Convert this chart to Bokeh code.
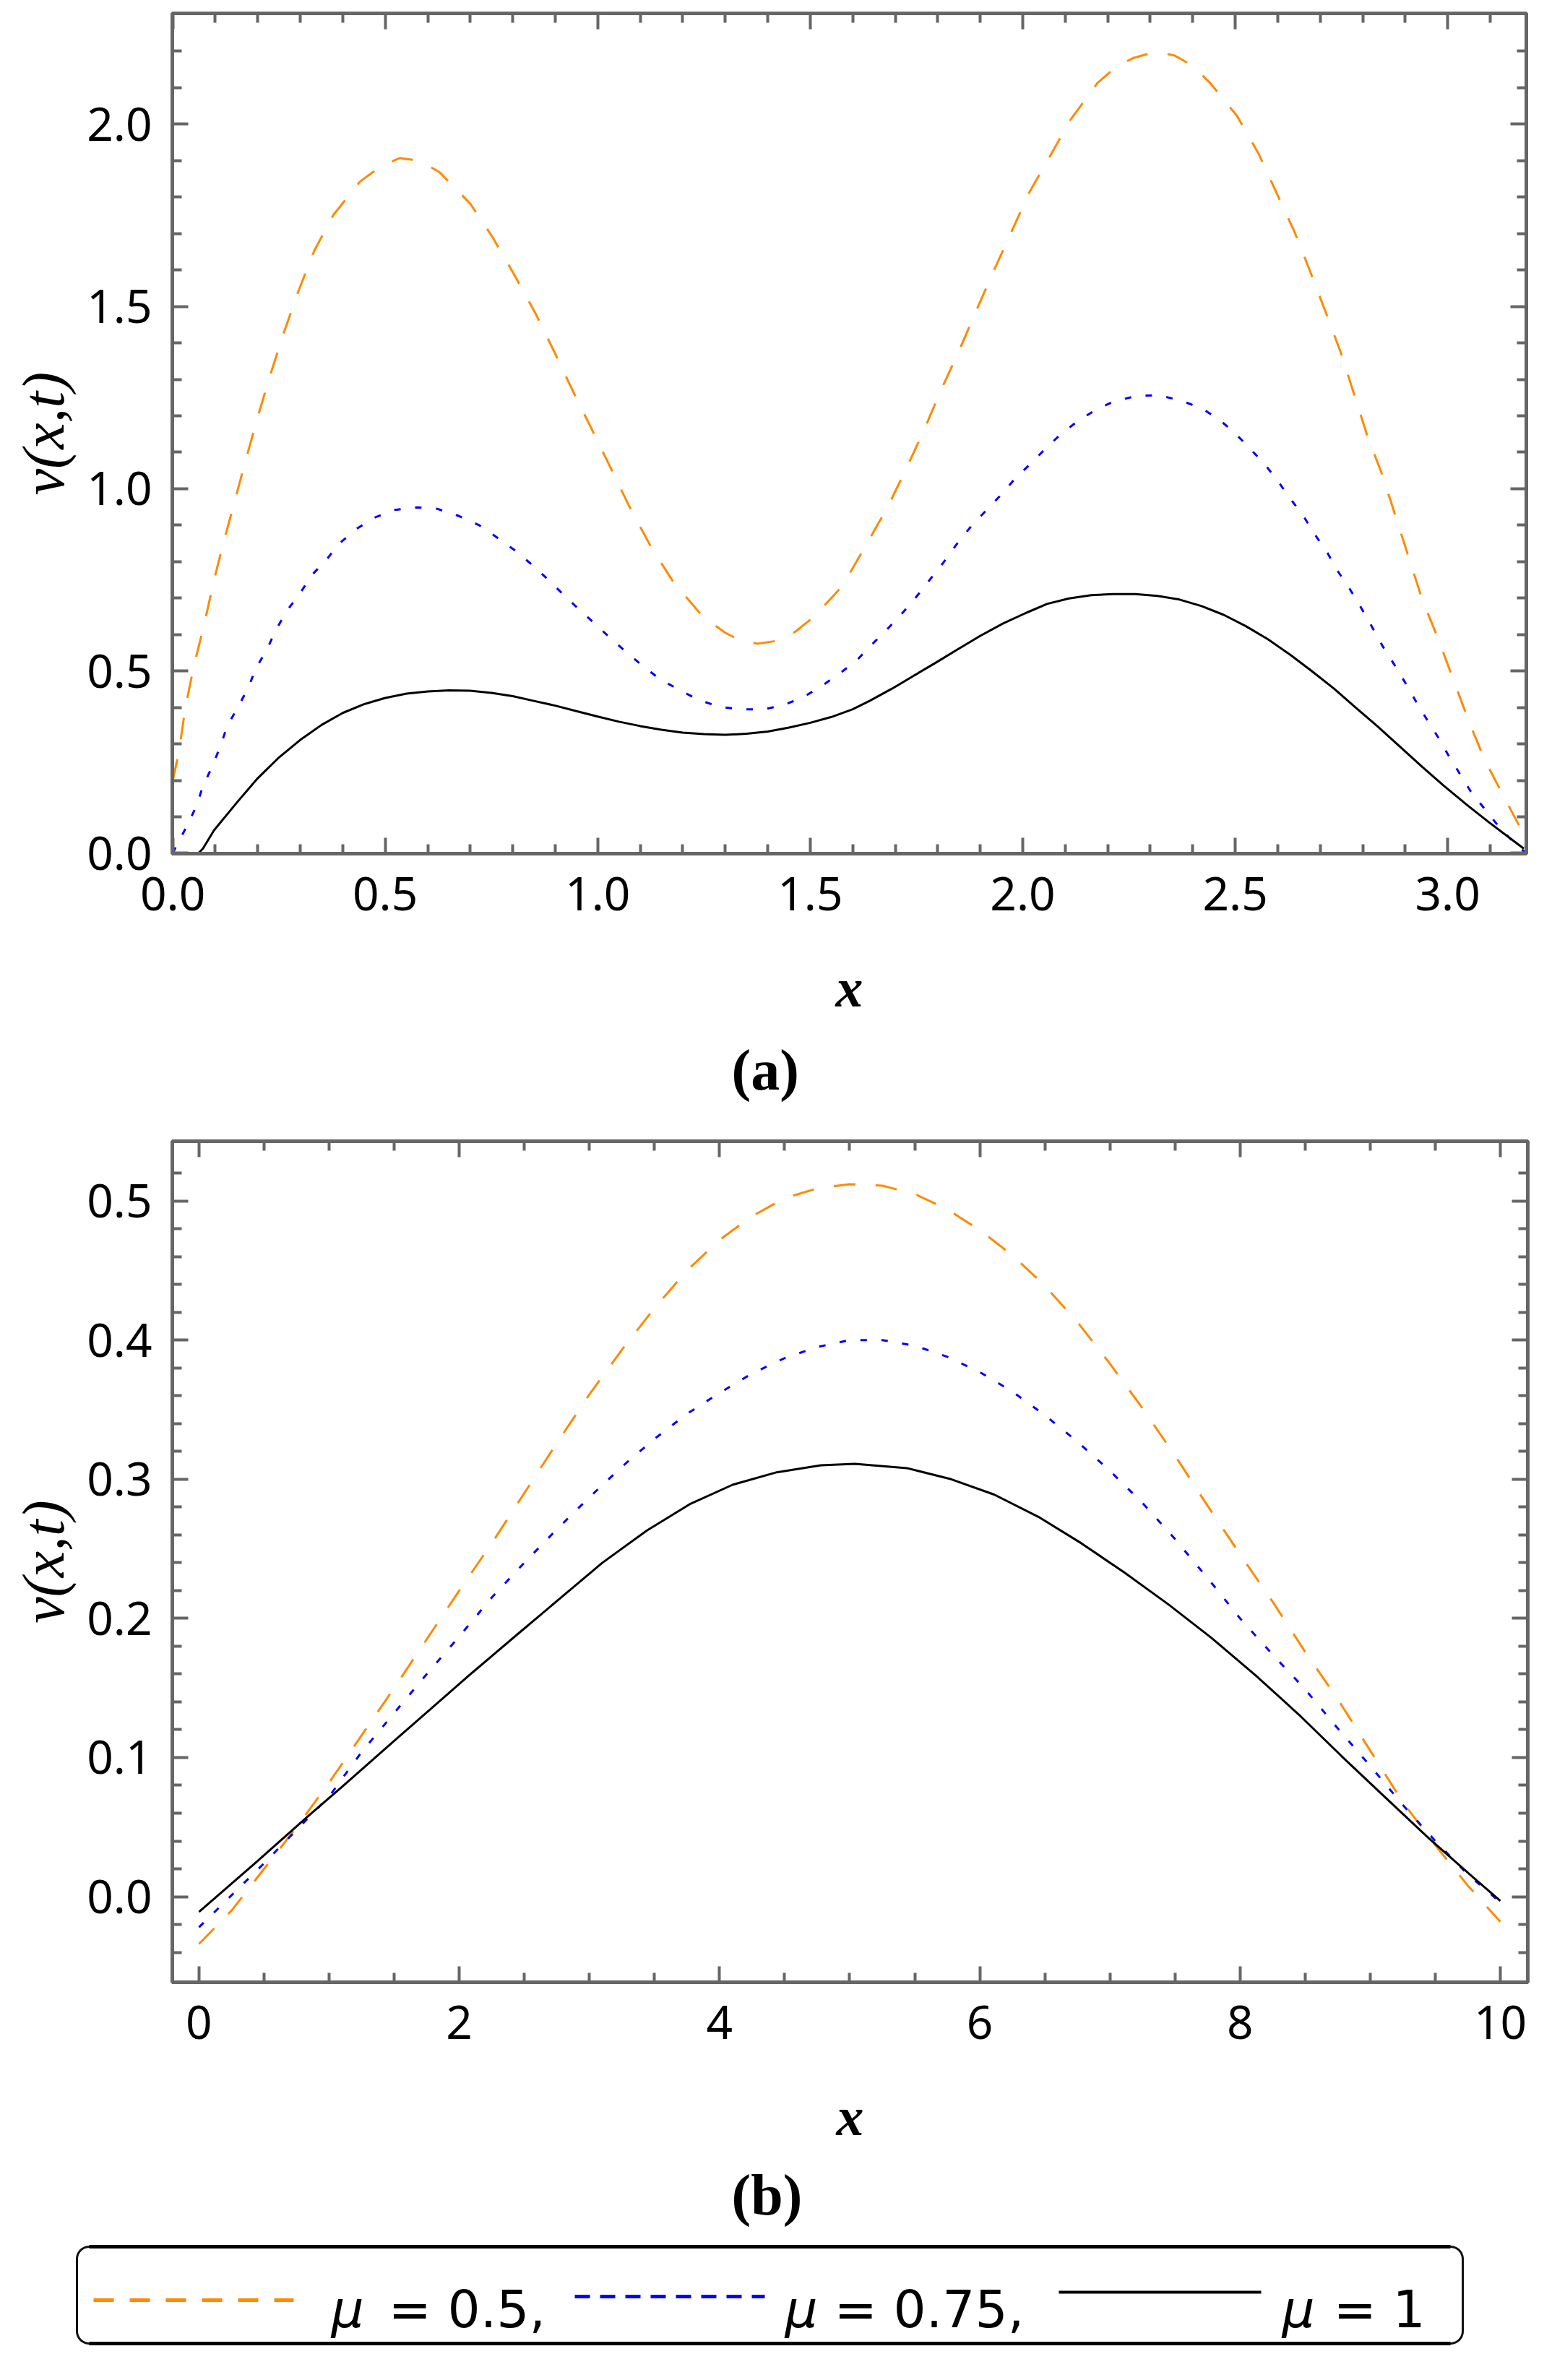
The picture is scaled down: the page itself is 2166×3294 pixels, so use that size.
import numpy as np
from bokeh.plotting import figure
from bokeh.models import Range1d, LinearAxis, FixedTicker, PrintfTickFormatter, Title
from bokeh.layouts import column
from bokeh.embed import file_html
from bokeh.resources import INLINE
from bokeh.core.properties import value

# ------------------------------------------------------------------ data
# panel (a)
a_orange_x = [0.0, 0.014, 0.030, 0.050, 0.074, 0.097, 0.120, 0.146, 0.172, 0.201, 0.230, 0.261,
              0.295, 0.333, 0.378, 0.440, 0.490, 0.534, 0.580, 0.627, 0.700, 0.752, 0.804,
              0.854, 0.898, 0.941, 0.986, 1.030, 1.074, 1.126, 1.178, 1.246, 1.300, 1.334,
              1.376, 1.423, 1.465, 1.511, 1.573, 1.594, 1.636, 1.683, 1.724, 1.766, 1.807,
              1.849, 1.890, 1.930, 1.974, 2.015, 2.065, 2.114, 2.176, 2.220, 2.259, 2.295,
              2.327, 2.358, 2.400, 2.441, 2.504, 2.556, 2.597, 2.639, 2.675, 2.712, 2.748,
              2.779, 2.810, 2.847, 2.878, 2.909, 2.940, 2.977, 3.013, 3.049, 3.086, 3.133,
              3.174, 3.19]
a_orange_y = [0.20, 0.274, 0.402, 0.515, 0.628, 0.749, 0.855, 0.967, 1.080, 1.201, 1.314, 1.427,
              1.540, 1.653, 1.751, 1.842, 1.885, 1.907, 1.900, 1.869, 1.782, 1.691, 1.586,
              1.480, 1.375, 1.269, 1.163, 1.058, 0.952, 0.839, 0.744, 0.651, 0.605, 0.585,
              0.575, 0.583, 0.608, 0.651, 0.730, 0.770, 0.855, 0.952, 1.050, 1.156, 1.269,
              1.375, 1.487, 1.593, 1.706, 1.812, 1.914, 2.015, 2.113, 2.158, 2.181, 2.193,
              2.196, 2.188, 2.160, 2.113, 2.023, 1.917, 1.812, 1.706, 1.600, 1.487, 1.375,
              1.262, 1.148, 1.035, 0.922, 0.809, 0.696, 0.590, 0.477, 0.364, 0.259, 0.153,
              0.063, 0.03]

a_blue_x = [0.0, 0.014, 0.035, 0.056, 0.071, 0.092, 0.113, 0.128, 0.154, 0.178, 0.196, 0.222,
            0.243, 0.269, 0.300, 0.328, 0.362, 0.393, 0.435, 0.477, 0.523, 0.575, 0.622,
            0.674, 0.721, 0.762, 0.804, 0.846, 0.882, 0.918, 0.955, 0.991, 1.030, 1.069,
            1.108, 1.147, 1.194, 1.235, 1.285, 1.339, 1.391, 1.438, 1.485, 1.527, 1.568,
            1.610, 1.641, 1.683, 1.719, 1.750, 1.781, 1.813, 1.844, 1.875, 1.911, 1.948,
            1.979, 2.015, 2.052, 2.088, 2.130, 2.171, 2.213, 2.265, 2.317, 2.369, 2.421,
            2.462, 2.499, 2.535, 2.571, 2.603, 2.628, 2.660, 2.686, 2.717, 2.743, 2.769,
            2.795, 2.821, 2.847, 2.873, 2.899, 2.925, 2.951, 2.977, 3.003, 3.029, 3.055,
            3.086, 3.117, 3.159, 3.185]
a_blue_y = [0.0, 0.033, 0.078, 0.131, 0.184, 0.236, 0.296, 0.349, 0.402, 0.455, 0.508, 0.560,
            0.613, 0.666, 0.714, 0.764, 0.806, 0.851, 0.892, 0.922, 0.942, 0.949, 0.945,
            0.925, 0.900, 0.867, 0.832, 0.791, 0.752, 0.711, 0.670, 0.632, 0.590, 0.550,
            0.512, 0.477, 0.447, 0.422, 0.402, 0.395, 0.395, 0.407, 0.429, 0.459, 0.492,
            0.530, 0.568, 0.617, 0.662, 0.704, 0.750, 0.797, 0.847, 0.892, 0.937, 0.982,
            1.024, 1.065, 1.108, 1.148, 1.186, 1.216, 1.239, 1.254, 1.257, 1.243, 1.221,
            1.190, 1.153, 1.110, 1.065, 1.017, 0.975, 0.926, 0.877, 0.824, 0.771, 0.726,
            0.676, 0.623, 0.568, 0.520, 0.470, 0.417, 0.367, 0.319, 0.266, 0.217, 0.168,
            0.123, 0.078, 0.025, 0.0]

a_black_x = [0.060, 0.071, 0.097, 0.15, 0.2, 0.25, 0.3, 0.35, 0.4, 0.45, 0.5, 0.55, 0.6, 0.65,
             0.7, 0.75, 0.8, 0.85, 0.9, 0.95, 1.0, 1.05, 1.1, 1.15, 1.2, 1.25, 1.3, 1.35, 1.4,
             1.45, 1.5, 1.55, 1.6, 1.641, 1.693, 1.745, 1.797, 1.849, 1.901, 1.953, 2.005,
             2.057, 2.109, 2.161, 2.213, 2.265, 2.317, 2.369, 2.421, 2.473, 2.525, 2.577,
             2.629, 2.680, 2.732, 2.784, 2.836, 2.888, 2.940, 2.992, 3.044, 3.096, 3.148,
             3.179]
a_black_y = [0.0, 0.013, 0.063, 0.138, 0.206, 0.263, 0.311, 0.352, 0.385, 0.409, 0.426, 0.438,
             0.444, 0.447, 0.446, 0.440, 0.431, 0.418, 0.405, 0.390, 0.375, 0.361, 0.349,
             0.339, 0.331, 0.327, 0.325, 0.328, 0.334, 0.345, 0.358, 0.374, 0.395, 0.419,
             0.452, 0.488, 0.524, 0.561, 0.597, 0.630, 0.658, 0.684, 0.699, 0.708, 0.711,
             0.711, 0.706, 0.696, 0.678, 0.654, 0.623, 0.587, 0.545, 0.500, 0.452, 0.399,
             0.347, 0.292, 0.237, 0.184, 0.134, 0.086, 0.040, 0.013]

# panel (b)
b_x = [0.0, 0.25, 0.5, 0.75, 1.0, 1.25, 1.5, 1.75, 2.0, 2.25, 2.5, 2.75, 3.0, 3.25, 3.5, 3.75,
       4.0, 4.25, 4.5, 4.75, 5.0, 5.25, 5.5, 5.75, 6.0, 6.25, 6.5, 6.75, 7.0, 7.25, 7.5, 7.75,
       8.0, 8.25, 8.5, 8.75, 9.0, 9.25, 9.5, 9.75, 10.0]
b_orange_y = [-0.034, -0.010, 0.020, 0.050, 0.082, 0.116, 0.150, 0.185, 0.220, 0.254, 0.290,
              0.326, 0.361, 0.393, 0.423, 0.450, 0.472, 0.489, 0.502, 0.509, 0.512, 0.511,
              0.505, 0.494, 0.479, 0.461, 0.439, 0.413, 0.383, 0.351, 0.317, 0.281, 0.246,
              0.212, 0.176, 0.142, 0.105, 0.068, 0.037, 0.008, -0.018]
b_blue_y = [-0.022, 0.001, 0.024, 0.048, 0.072, 0.104, 0.132, 0.160, 0.187, 0.215, 0.240,
            0.264, 0.287, 0.309, 0.329, 0.347, 0.362, 0.376, 0.387, 0.395, 0.400, 0.400,
            0.396, 0.388, 0.377, 0.363, 0.346, 0.327, 0.306, 0.283, 0.257, 0.229, 0.200,
            0.174, 0.149, 0.121, 0.094, 0.066, 0.040, 0.016, -0.004]
b_black_x = [0.0, 0.43, 0.84, 1.1, 1.5, 1.77, 2.1, 2.44, 2.77, 3.1, 3.44, 3.77, 4.1, 4.44, 4.78,
             5.04, 5.44, 5.78, 6.11, 6.45, 6.78, 7.11, 7.45, 7.78, 8.12, 8.45, 8.78, 9.12,
             9.45, 9.79, 10.0]
b_black_y = [-0.011, 0.024, 0.058, 0.079, 0.112, 0.134, 0.161, 0.188, 0.214, 0.240, 0.263,
             0.282, 0.296, 0.305, 0.310, 0.311, 0.308, 0.300, 0.289, 0.273, 0.254, 0.233,
             0.210, 0.186, 0.159, 0.131, 0.101, 0.071, 0.042, 0.014, -0.003]

# ticks
a_xticks = [0.0, 0.5, 1.0, 1.5, 2.0, 2.5, 3.0]
a_xminor = [0.1, 0.2, 0.3, 0.4, 0.6, 0.7, 0.8, 0.9, 1.1, 1.2, 1.3, 1.4, 1.6, 1.7, 1.8, 1.9,
            2.1, 2.2, 2.3, 2.4, 2.6, 2.7, 2.8, 2.9, 3.1]
a_yticks = [0.0, 0.5, 1.0, 1.5, 2.0]
a_yminor = [0.1, 0.2, 0.3, 0.4, 0.6, 0.7, 0.8, 0.9, 1.1, 1.2, 1.3, 1.4, 1.6, 1.7, 1.8, 1.9,
            2.1, 2.2]
b_xticks = [0, 2, 4, 6, 8, 10]
b_xminor = [0.5, 1.0, 1.5, 2.5, 3.0, 3.5, 4.5, 5.0, 5.5, 6.5, 7.0, 7.5, 8.5, 9.0, 9.5]
b_yticks = [0.0, 0.1, 0.2, 0.3, 0.4, 0.5]
b_yminor = [-0.04, -0.02, 0.02, 0.04, 0.06, 0.08, 0.12, 0.14, 0.16, 0.18, 0.22, 0.24, 0.26,
            0.28, 0.32, 0.34, 0.36, 0.38, 0.42, 0.44, 0.46, 0.48, 0.52]

legend_values = ["= 0.5,", "= 0.75,", "= 1"]

# ------------------------------------------------------------------ style
W = 2150
AX = "#666666"
ORANGE = "#FF8A00"
BLUE = "#0000FF"
BLACK = "#000000"
TICK_FONT = "Noto Sans"
LABEL_FONT = "Liberation Serif"


def style_axis(ax, ticks, minors, fmt, labels):
    ax.ticker = FixedTicker(ticks=ticks, minor_ticks=minors)
    ax.formatter = PrintfTickFormatter(format=fmt)
    ax.axis_line_color = AX
    ax.axis_line_width = 5
    ax.major_tick_line_color = AX
    ax.major_tick_line_width = 4
    ax.minor_tick_line_color = AX
    ax.minor_tick_line_width = 4
    ax.major_tick_in = 22
    ax.major_tick_out = 0
    ax.minor_tick_in = 13
    ax.minor_tick_out = 0
    if labels:
        ax.major_label_text_font = TICK_FONT
        ax.major_label_text_font_size = "64px"
        ax.major_label_text_color = "black"
    else:
        ax.major_label_text_font_size = "0px"
        ax.major_label_text_alpha = 0
        ax.major_label_standoff = 0


def panel(height, btop, bbottom, bright, xr, yr, xt, xm, yt, ym, xfmt, yfmt, cap, cap_standoff):
    p = figure(width=W, height=height, x_range=Range1d(*xr), y_range=Range1d(*yr),
               output_backend="svg", toolbar_location=None, frame_align=False,
               min_border_left=238, min_border_right=bright,
               min_border_top=btop, min_border_bottom=bbottom)
    p.grid.visible = False
    p.outline_line_color = AX
    p.outline_line_width = 5
    p.background_fill_color = "white"
    p.border_fill_color = "white"
    bottom = p.below[0]
    left = p.left[0]
    top = LinearAxis()
    right = LinearAxis()
    p.add_layout(top, "above")
    p.add_layout(right, "right")
    style_axis(bottom, xt, xm, xfmt, True)
    style_axis(left, yt, ym, yfmt, True)
    style_axis(top, xt, xm, xfmt, False)
    style_axis(right, yt, ym, yfmt, False)
    bottom.major_label_standoff = 32
    left.major_label_standoff = 28
    bottom.axis_label = "x"
    bottom.axis_label_text_font = LABEL_FONT
    bottom.axis_label_text_font_style = "bold italic"
    bottom.axis_label_text_font_size = "76px"
    bottom.axis_label_text_color = "black"
    bottom.axis_label_standoff = 62
    left.axis_label = "v(x,t)"
    left.axis_label_text_font = LABEL_FONT
    left.axis_label_text_font_style = "italic"
    left.axis_label_text_font_size = "82px"
    left.axis_label_text_color = "black"
    left.axis_label_standoff = 11
    t = Title(text=cap, align="left", offset=774, vertical_align="middle",
              text_font=LABEL_FONT, text_font_size="80px", text_font_style="bold",
              text_color="black", standoff=cap_standoff)
    p.add_layout(t, "below")
    return p


# panel (a): page rows 8..1575
pa = panel(1567, 18, 386, 38, (-0.001, 3.185), (-0.001, 2.304),
           a_xticks, a_xminor, a_yticks, a_yminor, "%.1f", "%.1f", "(a)", 48)
pa.line(a_orange_x, a_orange_y, line_color=ORANGE, line_width=3, line_dash="30 28")
pa.line(a_blue_x, a_blue_y, line_color=BLUE, line_width=3, line_dash="9 20")
pa.line(a_black_x, a_black_y, line_color=BLACK, line_width=3)

# panel (b): page rows 1575..3114
pb = panel(1539, 12, 363, 36, (-0.205, 10.211), (-0.0615, 0.5429),
           b_xticks, b_xminor, b_yticks, b_yminor, "%d", "%.1f", "(b)", 38)
pb.line(b_x, b_orange_y, line_color=ORANGE, line_width=3, line_dash="30 28")
pb.line(b_x, b_blue_y, line_color=BLUE, line_width=3, line_dash="9 20")
pb.line(b_black_x, b_black_y, line_color=BLACK, line_width=3)

# legend strip: page rows 3114..3286, drawn in pixel units
LH = 172
lg = figure(width=W, height=LH, x_range=Range1d(0, W), y_range=Range1d(LH, 0),
            output_backend="svg", toolbar_location=None, frame_align=False,
            x_axis_location=None, y_axis_location=None,
            min_border=0, min_border_left=0, min_border_right=0,
            min_border_top=0, min_border_bottom=0)
lg.grid.visible = False
lg.outline_line_color = None
lg.background_fill_color = "white"
lg.border_fill_color = "white"

L, R, T, B, r = 106, 2024, 3, 137, 17
pts_x, pts_y = [], []
for cx, cy, a0, a1 in [(R - r, T + r, -90, 0), (R - r, B - r, 0, 90),
                       (L + r, B - r, 90, 180), (L + r, T + r, 180, 270)]:
    th = np.radians(np.linspace(a0, a1, 12))
    pts_x += list(cx + r * np.cos(th))
    pts_y += list(cy + r * np.sin(th))
pts_x.append(pts_x[0])
pts_y.append(pts_y[0])
lg.line(pts_x, pts_y, line_color="#111111", line_width=3)
lg.line([L + r, R - r], [T, T], line_color="black", line_width=5)
lg.line([L + r, R - r], [B, B], line_color="black", line_width=5)

lg.line([129, 406], [77, 77], line_color=ORANGE, line_width=5, line_dash="28 22")
lg.line([795, 1058], [72, 72], line_color=BLUE, line_width=5, line_dash="21 14")
lg.line([1465, 1745], [66, 66], line_color=BLACK, line_width=4)

mu_x = [458, 1086, 1774]
eq_x = [537, 1154, 1845]
base_y = [90, 90, 90]
lg.text(x=mu_x, y=base_y, text=["μ", "μ", "μ"], text_font=value("DejaVu Sans"),
        text_font_size=value("71px"), text_font_style="italic", text_color="black",
        text_align="left", text_baseline="alphabetic")
lg.text(x=eq_x, y=base_y, text=legend_values, text_font=value("DejaVu Sans"),
        text_font_size=value("71px"), text_color="black",
        text_align="left", text_baseline="alphabetic")

page = column(pa, pb, lg)
open("out.html", "w").write(file_html(page, INLINE))
